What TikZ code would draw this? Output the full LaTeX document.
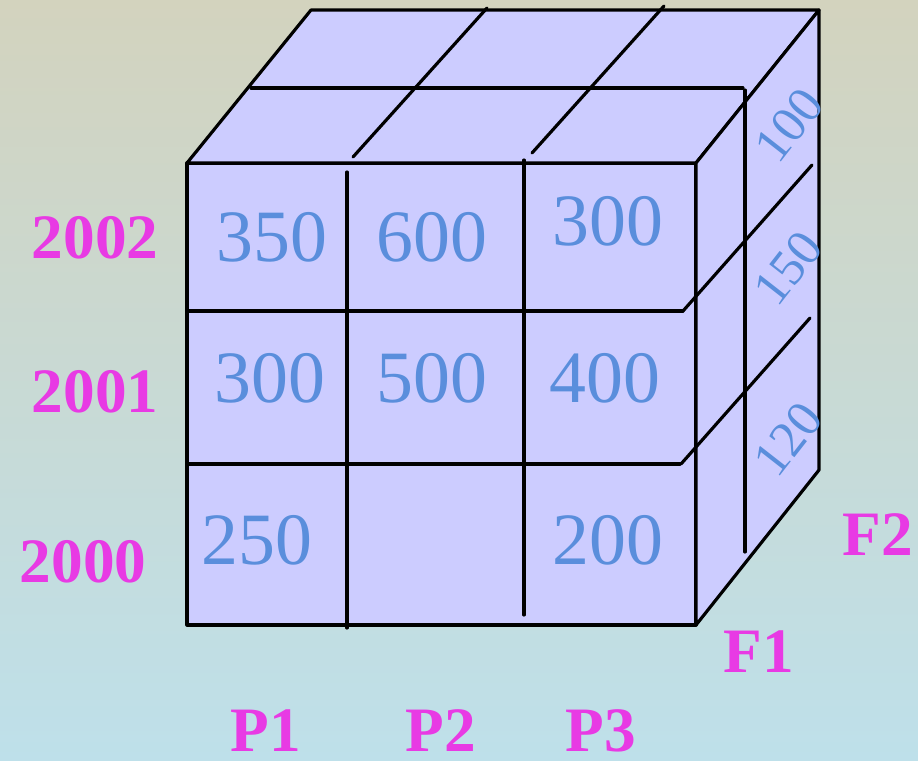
\documentclass[tikz,border=0pt]{standalone}
\usepackage{fontspec}
\setmainfont{Liberation Serif}
\usepackage{xcolor}
\definecolor{cubefill}{RGB}{204,204,255}
\definecolor{numblue}{RGB}{90,142,220}
\definecolor{labmag}{RGB}{232,58,228}
\definecolor{bgtop}{RGB}{211,211,190}
\definecolor{bgbot}{RGB}{190,224,234}

\begin{document}
\begin{tikzpicture}[line cap=round,line join=round,
  edge/.style={black,line width=1.8pt},
  val/.style={numblue,font=\fontsize{42}{48}\selectfont},
  sideval/.style={numblue,font=\fontsize{29}{34}\selectfont,rotate=52,inner sep=0pt},
  dimlab/.style={labmag,font=\fontsize{36}{42}\selectfont\bfseries}]
% background
\shade[top color=bgtop,bottom color=bgbot] (0,0) rectangle (18.36,15.2);
\useasboundingbox (0,0) rectangle (18.36,15.2);
% faces of the cube
\filldraw[edge,fill=cubefill] (3.74,2.70) rectangle (13.92,11.94);
\filldraw[edge,fill=cubefill] (3.74,11.94) -- (6.22,15.00) -- (16.38,15.00) -- (13.92,11.94) -- cycle;
\filldraw[edge,fill=cubefill] (13.92,11.94) -- (16.38,15.00) -- (16.38,5.80) -- (13.92,2.70) -- cycle;
% front grid
\draw[edge] (6.94,11.76) -- (6.94,2.64);
\draw[edge] (10.48,12.00) -- (10.48,2.90);
\draw[edge] (3.74,8.98) -- (13.66,8.98);
\draw[edge] (3.74,5.92) -- (13.60,5.92);
% right grid
\draw[edge] (13.66,8.98) -- (16.24,11.90);
\draw[edge] (13.62,5.92) -- (16.20,8.84);
\draw[edge] (14.90,13.40) -- (14.90,4.16);
% top grid
\draw[edge] (5.02,13.44) -- (14.86,13.44);
\draw[edge] (7.06,12.06) -- (9.74,15.04);
\draw[edge] (10.64,12.14) -- (13.28,15.08);
% values
\node[val] (v350) at (5.44,10.46) {350};
\node[val] (v600) at (8.64,10.46) {600};
\node[val] (v300a) at (12.16,10.78) {300};
\node[val] (v300b) at (5.40,7.64) {300};
\node[val] (v500) at (8.64,7.64) {500};
\node[val] (v400) at (12.10,7.64) {400};
\node[val] (v250) at (5.14,4.40) {250};
\node[val] (v200) at (12.16,4.40) {200};
\node[sideval] (s100) at (15.78,12.70) {100};
\node[sideval] (s150) at (15.76,9.84) {150};
\node[sideval] (s120) at (15.76,6.42) {120};
% labels
\node[dimlab] (y2002) at (1.90,10.44) {2002};
\node[dimlab] (y2001) at (1.90,7.36) {2001};
\node[dimlab] (y2000) at (1.66,3.96) {2000};
\node[dimlab] (p1) at (5.32,0.58) {P1};
\node[dimlab] (p2) at (8.82,0.58) {P2};
\node[dimlab] (p3) at (12.02,0.58) {P3};
\node[dimlab] (f1) at (15.18,2.16) {F1};
\node[dimlab] (f2) at (17.56,4.50) {F2};
\end{tikzpicture}
\end{document}
